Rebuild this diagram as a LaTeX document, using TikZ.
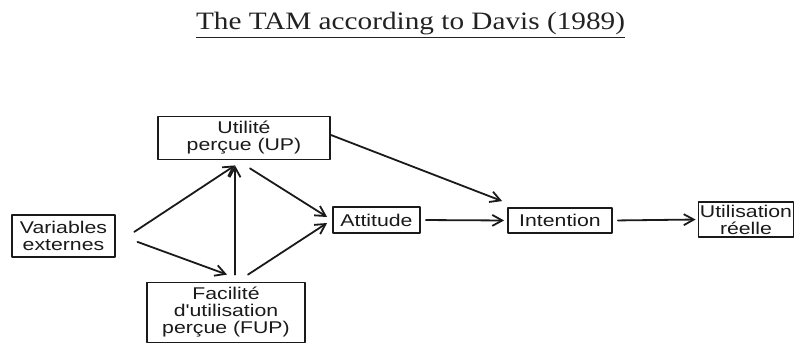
\documentclass[tikz,border=0pt]{standalone}
\usepackage{fontspec}
\usepackage{xcolor}
\usepackage{tikz}
\usetikzlibrary{arrows.meta}
\newfontfamily\tamsans{Liberation Sans}[FakeStretch=1.25]
\newfontfamily\tamserif{Liberation Serif}[FakeStretch=1.17]
\definecolor{tamInk}{HTML}{1A1A1A}
\definecolor{tamTitle}{HTML}{222222}
\tikzset{
  tam diagram/.style={x=1pt, y=-1pt, line cap=round, line join=round},
  tam box/.style={draw=tamInk, fill=white, line width=1.8pt, inner sep=0pt,
    align=center, text=tamInk, font=\tamsans\fontsize{17}{17}\selectfont},
  tam arrow/.style={-{Straight Barb[length=10pt,width=11pt,line width=1.8pt]},
    draw=tamInk, line width=1.8pt},
  tam title/.style={font=\tamserif\fontsize{25}{25}\selectfont, text=tamTitle,
    anchor=base, inner sep=0pt}
}

\begin{document}
\begin{tikzpicture}[tam diagram]
\useasboundingbox (0,0) rectangle (795,345);
\node[tam title] (title) at (410.5,30) {\underline{The TAM according to Davis (1989)}};
% boxes
\node[tam box, minimum width=103pt, minimum height=42pt] (ve) at (63.5,236) {Variables\\externes};
\node[tam box, minimum width=172pt, minimum height=43pt] (up) at (244,138) {Utilité\\perçue (UP)};
\node[tam box, minimum width=158pt, minimum height=60pt] (fup) at (226,312.5) {Facilité\\d'utilisation\\perçue (FUP)};
\node[tam box, minimum width=87pt, minimum height=26pt] (att) at (376.5,220) {Attitude};
\node[tam box, minimum width=104pt, minimum height=25pt] (int) at (560,220.5) {Intention};
\node[tam box, minimum width=95pt, minimum height=35pt] (use) at (746,219.5) {Utilisation\\réelle};
% arrows
\draw[tam arrow, shorten <=22pt] ([yshift=-8pt]ve.east) -- ([xshift=-9pt,yshift=-5pt]up.south);
\draw[tam arrow, shorten <=23pt] ([yshift=2pt]ve.east) -- ([xshift=1pt,yshift=7pt]fup.north);
\draw[tam arrow] ([xshift=9pt,yshift=7pt]fup.north) -- ([xshift=-9pt,yshift=-5pt]up.south);
\draw[tam arrow] ([xshift=6pt,yshift=-8pt]up.south) -- ([xshift=-5pt,yshift=3pt]att.west);
\draw[tam arrow] ([xshift=22pt,yshift=7pt]fup.north) -- ([xshift=-5pt,yshift=-3pt]att.west);
\draw[tam arrow] ([yshift=3pt]up.east) -- ([xshift=-5pt,yshift=6pt]int.north west);
\draw[tam arrow, shorten <=5pt, shorten >=3pt] (att.east) -- (int.west);
\draw[tam arrow, shorten <=5pt, shorten >=2pt] (int.east) -- (use.west);
\end{tikzpicture}
\end{document}
